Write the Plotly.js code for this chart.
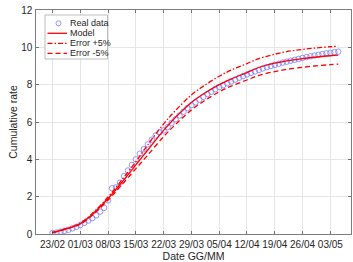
<!DOCTYPE html>
<html>
<head>
<meta charset="utf-8">
<script src="https://cdn.plot.ly/plotly-3.0.1.min.js"></script>
<style>html,body{margin:0;padding:0;background:#fff;}#chart{width:353px;height:262px;}</style>
</head>
<body>
<div id="chart"></div>
<script>
// Real data (daily, 23/02 .. 05/05)
var dataDates = [
 '2020-02-23','2020-02-24','2020-02-25','2020-02-26','2020-02-27','2020-02-28','2020-02-29',
 '2020-03-01','2020-03-02','2020-03-03','2020-03-04','2020-03-05','2020-03-06','2020-03-07',
 '2020-03-08','2020-03-09','2020-03-10','2020-03-11','2020-03-12','2020-03-13','2020-03-14',
 '2020-03-15','2020-03-16','2020-03-17','2020-03-18','2020-03-19','2020-03-20','2020-03-21',
 '2020-03-22','2020-03-23','2020-03-24','2020-03-25','2020-03-26','2020-03-27','2020-03-28',
 '2020-03-29','2020-03-30','2020-03-31','2020-04-01','2020-04-02','2020-04-03','2020-04-04',
 '2020-04-05','2020-04-06','2020-04-07','2020-04-08','2020-04-09','2020-04-10','2020-04-11',
 '2020-04-12','2020-04-13','2020-04-14','2020-04-15','2020-04-16','2020-04-17','2020-04-18',
 '2020-04-19','2020-04-20','2020-04-21','2020-04-22','2020-04-23','2020-04-24','2020-04-25',
 '2020-04-26','2020-04-27','2020-04-28','2020-04-29','2020-04-30','2020-05-01','2020-05-02',
 '2020-05-03','2020-05-04','2020-05-05'];
var realData = [
 0.05,0.08,0.12,0.17,0.22,0.30,0.38,
 0.48,0.60,0.72,0.85,1.00,1.20,1.40,
 1.80,2.45,2.50,2.75,3.10,3.40,3.70,
 4.00,4.30,4.55,4.80,5.05,5.28,5.45,
 5.55,5.72,5.95,6.15,6.35,6.55,6.75,
 6.90,7.05,7.20,7.35,7.50,7.62,7.75,
 7.87,7.97,8.07,8.17,8.27,8.37,8.46,
 8.55,8.63,8.71,8.79,8.87,8.94,9.00,
 9.06,9.12,9.18,9.23,9.28,9.33,9.38,
 9.43,9.48,9.52,9.56,9.60,9.64,9.68,
 9.71,9.74,9.77];

// Model and error curves (sampled)
var modelDates = ['2020-02-23','2020-02-26','2020-03-01','2020-03-04','2020-03-08','2020-03-11',
 '2020-03-15','2020-03-18','2020-03-22','2020-03-25','2020-03-29','2020-04-01','2020-04-05',
 '2020-04-08','2020-04-12','2020-04-15','2020-04-19','2020-04-22','2020-04-26','2020-04-29',
 '2020-05-03','2020-05-05'];
var modelVals = [0.08,0.25,0.55,1.05,1.90,2.65,3.70,4.50,5.55,6.25,7.05,7.50,8.00,8.30,8.65,8.92,9.15,9.28,9.40,9.47,9.55,9.58];
var errPlus5  = [0.08,0.26,0.58,1.10,1.98,2.77,3.88,4.78,5.90,6.62,7.45,7.92,8.45,8.78,9.13,9.40,9.63,9.77,9.89,9.96,10.03,10.06];
var errMinus5 = [0.08,0.24,0.52,1.00,1.82,2.53,3.50,4.23,5.22,5.87,6.65,7.10,7.62,7.92,8.25,8.50,8.70,8.82,8.93,9.00,9.07,9.10];

var xTickVals = ['2020-02-23','2020-03-01','2020-03-08','2020-03-15','2020-03-22','2020-03-29',
 '2020-04-05','2020-04-12','2020-04-19','2020-04-26','2020-05-03'];
var xTickText = ['23/02','01/03','08/03','15/03','22/03','29/03','05/04','12/04','19/04','26/04','03/05'];
var yTickVals = [0,2,4,6,8,10,12];
var legendNames = ['Real data','Model','Error +5%','Error -5%'];

var red = 'rgb(255,0,0)';
var markerColor = 'rgba(110,110,255,0.8)';
var dashDot = '5px,2px,1.5px,2px';
var dashOnly = '5px,3px';
var traces = [
 {x: dataDates, y: realData, type:'scatter', mode:'markers', name:legendNames[0],
  marker:{symbol:'circle-open', size:5.5, color:markerColor, line:{width:0.9}}},
 {x: modelDates, y: modelVals, type:'scatter', mode:'lines', name:legendNames[1],
  line:{color:red, width:1.3, shape:'spline'}},
 {x: modelDates, y: errPlus5, type:'scatter', mode:'lines', name:legendNames[2],
  line:{color:red, width:1.3, dash:dashDot, shape:'spline'}},
 {x: modelDates, y: errMinus5, type:'scatter', mode:'lines', name:legendNames[3],
  line:{color:red, width:1.3, dash:dashOnly, shape:'spline'}}
];

// plot-area geometry (pixels) for the compact MATLAB-style legend box
var W = 353, H = 262, ML = 36, MR = 2, MT = 10, MB = 28;
var PW = W - ML - MR, PH = H - MT - MB;
function px(x){ return (x - ML) / PW; }
function py(y){ return 1 - (y - MT) / PH; }

var shapes = [
 {type:'rect', xref:'paper', yref:'paper', x0:px(45), x1:px(107.5), y0:py(59), y1:py(15),
  fillcolor:'#fff', line:{color:'#a0a0a0', width:0.7}, layer:'above'}
];
var annotations = [];
var rows = [23.3, 33.3, 43.3, 53.3];
shapes.push({type:'circle', xref:'paper', yref:'paper', x0:px(56), x1:px(61), y0:py(rows[0]+2.5), y1:py(rows[0]-2.5),
  line:{color:markerColor, width:0.9}, layer:'above'});
var dashes = ['solid', dashDot, dashOnly];
for (var i = 1; i < 4; i++) {
  shapes.push({type:'line', xref:'paper', yref:'paper', x0:px(47.5), x1:px(67), y0:py(rows[i]), y1:py(rows[i]),
    line:{color:red, width:1.3, dash:dashes[i-1]}, layer:'above'});
}
for (var j = 0; j < 4; j++) {
  annotations.push({xref:'paper', yref:'paper', x:px(68), y:py(rows[j]), xanchor:'left', yanchor:'middle',
    text:legendNames[j], showarrow:false, font:{size:9, color:'#262626'}});
}

var axisCommon = {
 showline:true, linecolor:'#262626', linewidth:0.6, mirror:'ticks',
 ticks:'inside', ticklen:3, tickwidth:0.6, tickcolor:'#262626',
 showgrid:true, gridcolor:'#e6e6e6', gridwidth:1, zeroline:false,
 tickfont:{family:'Liberation Sans, Arial, sans-serif', size:10, color:'#262626'}
};

var layout = {
 width:W, height:H,
 margin:{l:ML, r:MR, t:MT, b:MB, pad:0},
 paper_bgcolor:'#fff', plot_bgcolor:'#fff',
 showlegend:false,
 font:{family:'Liberation Sans, Arial, sans-serif', size:10, color:'#262626'},
 xaxis: Object.assign({}, axisCommon, {
  type:'date', range:['2020-02-18 20:00','2020-05-08 05:00'],
  tickvals:xTickVals, ticktext:xTickText, ticklabelstandoff:1,
  title:{text:'Date GG/MM', standoff:7, font:{size:10.5, color:'#262626'}}
 }),
 yaxis: Object.assign({}, axisCommon, {
  range:[0,12], tickvals:yTickVals, ticklabelstandoff:1, automargin:true,
  title:{text:'Cumulative rate', standoff:1, font:{size:10.5, color:'#262626'}}
 }),
 shapes: shapes,
 annotations: annotations
};

Plotly.newPlot('chart', traces, layout, {staticPlot:true, displayModeBar:false});
</script>
</body>
</html>
